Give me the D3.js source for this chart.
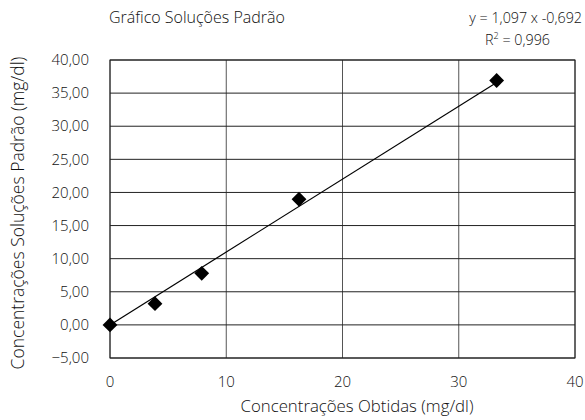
<!DOCTYPE html>
<html>
<head>
<meta charset="utf-8">
<script src="https://d3js.org/d3.v7.min.js"></script>
<style>
  body { margin: 0; background: #fff; }
  text { font-family: "Open Sans", "Noto Sans", sans-serif; font-weight: 300; fill: #111; }
</style>
</head>
<body>
<div id="chart"></div>
<script>
// dados
const obtidas = [0, 3.87, 7.89, 16.26, 33.26];
const padrao = [0, 3.2, 7.78, 18.97, 36.9];
const xTicks = [0, 10, 20, 30, 40];
const yTicks = [-5, 0, 5, 10, 15, 20, 25, 30, 35, 40];
// linha de tendência como desenhada
const trendX = [0, 33.26];
const trendSlope = 1.1;
const trendIntercept = 0;

const width = 585, height = 420;
const margin = { top: 60, right: 10, bottom: 62, left: 110 };

const svg = d3.select('#chart').append('svg')
    .attr('width', width)
    .attr('height', height);

const x = d3.scaleLinear().domain([0, 40]).range([margin.left, width - margin.right]);
const y = d3.scaleLinear().domain([-5, 40]).range([height - margin.bottom, margin.top]);

// grade vertical
svg.append('g')
    .selectAll('line')
    .data(xTicks)
    .enter().append('line')
    .attr('x1', d => x(d)).attr('x2', d => x(d))
    .attr('y1', y(-5)).attr('y2', y(40))
    .attr('stroke', '#555')
    .attr('stroke-width', 1);

// grade horizontal
svg.append('g')
    .selectAll('line')
    .data(yTicks)
    .enter().append('line')
    .attr('x1', x(0)).attr('x2', x(40))
    .attr('y1', d => y(d)).attr('y2', d => y(d))
    .attr('stroke', '#222')
    .attr('stroke-width', 1);

// borda
svg.append('rect')
    .attr('x', x(0)).attr('y', y(40))
    .attr('width', x(40) - x(0)).attr('height', y(-5) - y(40))
    .attr('fill', 'none')
    .attr('stroke', '#222');

// rótulos dos eixos
const fmt = d3.format('.2f');
svg.append('g')
    .selectAll('text')
    .data(yTicks)
    .enter().append('text')
    .attr('x', 89)
    .attr('y', d => y(d))
    .attr('dy', '0.35em')
    .attr('text-anchor', 'end')
    .style('font-size', '15px')
    .text(d => fmt(d).replace('.', ','));

svg.append('g')
    .selectAll('text')
    .data(xTicks)
    .enter().append('text')
    .attr('x', d => x(d))
    .attr('y', 387)
    .attr('text-anchor', 'middle')
    .style('font-size', '15px')
    .text(d => d);

// linha de tendência
svg.append('line')
    .attr('x1', x(trendX[0])).attr('y1', y(trendSlope * trendX[0] + trendIntercept))
    .attr('x2', x(trendX[1])).attr('y2', y(trendSlope * trendX[1] + trendIntercept))
    .attr('stroke', '#000')
    .attr('stroke-width', 1.2);

// pontos (losangos)
svg.append('g')
    .selectAll('path')
    .data(obtidas.map((v, i) => [v, padrao[i]]))
    .enter().append('path')
    .attr('d', d3.symbol().type(d3.symbolSquare).size(110))
    .attr('transform', d => `translate(${x(d[0])},${y(d[1])}) rotate(45)`)
    .attr('fill', '#000');

// títulos
svg.append('text')
    .attr('x', 109).attr('y', 23)
    .style('font-size', '16px')
    .text('Gráfico Soluções Padrão');

svg.append('text')
    .attr('text-anchor', 'end')
    .attr('x', 582).attr('y', 23)
    .style('font-size', '14.3px')
    .text('y = 1,097 x -0,692');

const r2 = svg.append('text')
    .attr('text-anchor', 'end')
    .attr('x', 550).attr('y', 45)
    .style('font-size', '14.3px');
r2.append('tspan').text('R');
r2.append('tspan').attr('dy', -6).style('font-size', '9px').text('2');
r2.append('tspan').attr('dy', 6).text(' = 0,996');

svg.append('text')
    .attr('x', 357).attr('y', 412)
    .attr('text-anchor', 'middle')
    .style('font-size', '16.8px')
    .text('Concentrações Obtidas (mg/dl)');

svg.append('text')
    .attr('transform', 'translate(24,213) rotate(-90)')
    .attr('text-anchor', 'middle')
    .style('font-size', '17.5px')
    .text('Concentrações Soluções Padrão (mg/dl)');
</script>
</body>
</html>
